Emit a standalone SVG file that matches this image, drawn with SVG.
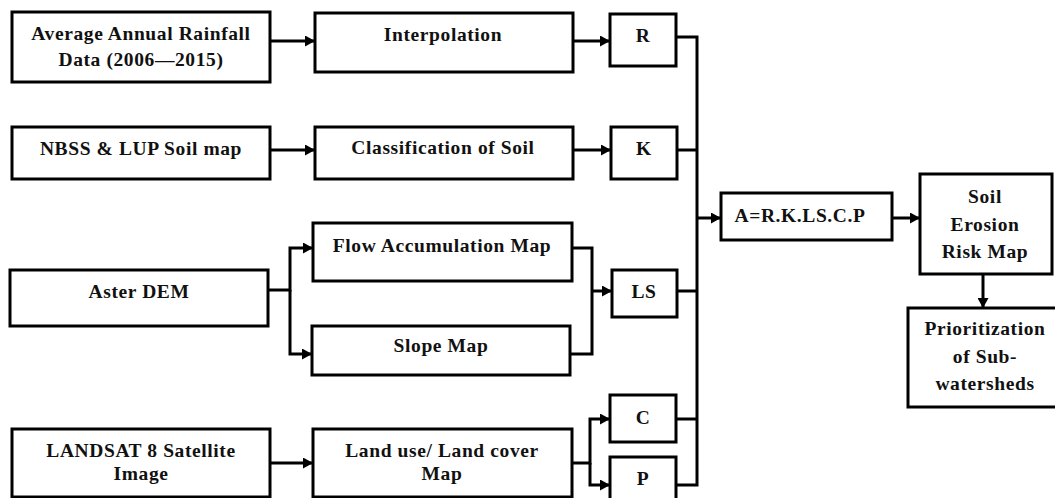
<svg xmlns="http://www.w3.org/2000/svg" width="1055" height="498" viewBox="0 0 1055 498">
<style>
.box{fill:#fff;stroke:#000;stroke-width:3}
.t{font-family:'Liberation Serif','Times New Roman',serif;font-weight:bold;font-size:19.5px;letter-spacing:0.6px;text-anchor:middle;fill:#111}
.c{fill:none;stroke:#000;stroke-width:3}
</style>
<defs>
<marker id="ah" markerUnits="userSpaceOnUse" markerWidth="11" markerHeight="11" refX="10" refY="5.5" orient="auto">
<path d="M0,0 L10,5.5 L0,11 z" fill="#000"/>
</marker>
</defs>
<rect width="1055" height="498" fill="#fff"/>
<g id="rainfall"><rect class="box" x="12" y="12" width="258" height="70"/><text class="t" x="141" y="40">Average Annual Rainfall</text><text class="t" x="141" y="66">Data (2006—2015)</text></g>
<g id="interpolation"><rect class="box" x="315" y="13" width="258" height="59"/><text class="t" x="443" y="41">Interpolation</text></g>
<g id="R"><rect class="box" x="610" y="14" width="66" height="52"/><text class="t" x="643" y="42">R</text></g>
<g id="nbss"><rect class="box" x="12" y="127" width="258" height="52"/><text class="t" x="141" y="155">NBSS &amp; LUP Soil map</text></g>
<g id="classification"><rect class="box" x="315" y="127" width="258" height="52"/><text class="t" x="443" y="154">Classification of Soil</text></g>
<g id="K"><rect class="box" x="611" y="127" width="66" height="52"/><text class="t" x="644" y="155">K</text></g>
<g id="aster"><rect class="box" x="10" y="270" width="258" height="56"/><text class="t" x="139" y="298">Aster DEM</text></g>
<g id="flow"><rect class="box" x="313" y="223" width="259" height="58"/><text class="t" x="442" y="252">Flow Accumulation Map</text></g>
<g id="slope"><rect class="box" x="312" y="326" width="258" height="49"/><text class="t" x="441" y="352">Slope Map</text></g>
<g id="LS"><rect class="box" x="612" y="270" width="65" height="47"/><text class="t" x="644" y="298">LS</text></g>
<g id="landsat"><rect class="box" x="12" y="429" width="258" height="68"/><text class="t" x="141" y="457">LANDSAT  8 Satellite</text><text class="t" x="141" y="480">Image</text></g>
<g id="landuse"><rect class="box" x="313" y="429" width="259" height="68"/><text class="t" x="442" y="457">Land use/ Land cover</text><text class="t" x="442" y="480">Map</text></g>
<g id="C"><rect class="box" x="610" y="395" width="66" height="47"/><text class="t" x="643" y="424">C</text></g>
<g id="P"><rect class="box" x="610" y="457" width="66" height="50"/><text class="t" x="643" y="485">P</text></g>
<g id="equation"><rect class="box" x="721" y="193" width="171" height="47"/><text class="t" x="800" y="222">A=R.K.LS.C.P</text></g>
<g id="risk"><rect class="box" x="920" y="174" width="132" height="100"/><text class="t" x="985" y="203">Soil</text><text class="t" x="985" y="231">Erosion</text><text class="t" x="985" y="258">Risk Map</text></g>
<g id="prioritization"><rect class="box" x="908" y="308" width="150" height="99"/><text class="t" x="985" y="335">Prioritization</text><text class="t" x="985" y="363">of Sub-</text><text class="t" x="985" y="390">watersheds</text></g>
<g id="connectors">
<path class="c" d="M270,41 H315" marker-end="url(#ah)"/>
<path class="c" d="M573,41 H610" marker-end="url(#ah)"/>
<path class="c" d="M270,150 H315" marker-end="url(#ah)"/>
<path class="c" d="M573,150 H611" marker-end="url(#ah)"/>
<path class="c" d="M268,290 H290 V248 H313" marker-end="url(#ah)"/>
<path class="c" d="M290,290 V354 H312" marker-end="url(#ah)"/>
<path class="c" d="M572,248 H592 V354 H570"/>
<path class="c" d="M592,291 H612" marker-end="url(#ah)"/>
<path class="c" d="M270,463 H313" marker-end="url(#ah)"/>
<path class="c" d="M572,463 H590 V419 H610" marker-end="url(#ah)"/>
<path class="c" d="M590,463 V485 H610" marker-end="url(#ah)"/>
<path class="c" d="M676,37 H697 V485 H676"/>
<path class="c" d="M677,150 H697"/>
<path class="c" d="M677,291 H697"/>
<path class="c" d="M676,419 H697"/>
<path class="c" d="M697,218 H721" marker-end="url(#ah)"/>
<path class="c" d="M892,218 H920" marker-end="url(#ah)"/>
<path class="c" d="M983,274 V308" marker-end="url(#ah)"/>
</g>
</svg>
